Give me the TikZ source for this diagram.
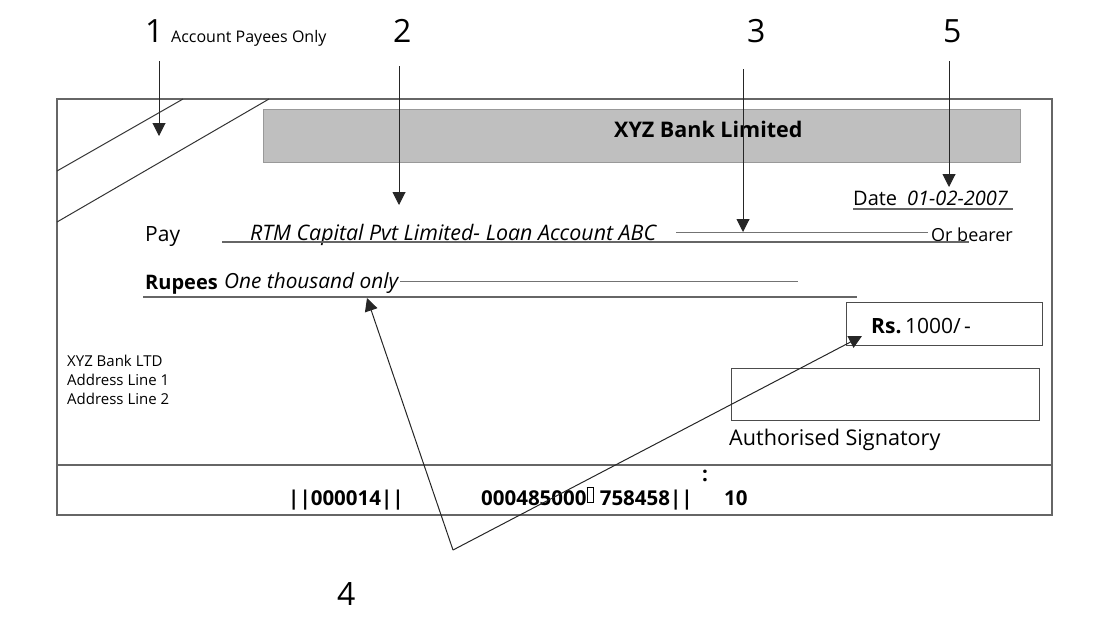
\documentclass[tikz,border=0pt]{standalone}
\usepackage{fontspec}
\setmainfont{Open Sans}
\usetikzlibrary{arrows.meta}
\begin{document}
\begin{tikzpicture}[x=1pt,y=-1pt,
  frame/.style={draw=black!60,line width=1.4pt},
  rule/.style={draw=black!60,line width=1.4pt},
  thin/.style={draw=black!55,line width=0.8pt},
  arr/.style={draw=black!85,line width=1pt,-{Triangle[length=13pt,width=13pt]}},
  num/.style={font=\fontsize{32}{32}\selectfont,inner sep=0pt,anchor=base west},
  txt/.style={inner sep=0pt,anchor=base west},
  fsize/.style={font=\fontsize{#1}{#1}\selectfont},
  fbold/.style={font=\fontsize{#1}{#1}\selectfont\bfseries}]
\useasboundingbox (0,0) rectangle (1118,633);

% cheque frame
\draw[frame] (57,99) rectangle (1052,515);
\draw[frame] (57,465) -- (1052,465);
% crossing lines
\draw[draw=black!80,line width=1pt] (57,171) -- (183,99);
\draw[draw=black!80,line width=1pt] (57,222) -- (269,99);
% bank header
\node[draw=black!40,fill=black!25,line width=1pt,minimum width=757pt,minimum height=53pt,anchor=north west,inner sep=0pt] (hdr) at (263,109) {};
\node[txt,fbold=21.5] (bank) at (614,137) {XYZ Bank Limited};

% date
\node[txt,fsize=20] (date) at (853,205) {Date\hspace{0.5em}\textit{01-02-2007}};
\draw[rule] (date.base west) ++(0,4) -- ++(160,0);

% pay line
\node[txt,fsize=21] (pay) at (145,241) {Pay};
\node[txt,fsize=21.4] (payee) at (250,240) {\textit{RTM Capital Pvt Limited- Loan Account ABC}};
\node[txt,fsize=18] (bearer) at (931,241) {Or bearer};
\draw[rule] (222,242) -- (969,242);
\draw[thin] (676,232) -- (928,232);

% rupees line
\node[txt,fbold=20] (rupees) at (145,289) {Rupees};
\node[txt,fsize=20.8] (words) at (224,288) {\textit{One thousand only}};
\draw[thin] (400,281) -- (798,281);
\draw[rule] (143,297) -- (857,297);

% amount box
\node[draw=black!70,line width=1pt,minimum width=196pt,minimum height=43pt,anchor=north west,inner sep=0pt] (amtbox) at (846,302) {};
\node[txt,fsize=21] (amt) at (871,333) {\textbf{Rs.}\,1000/\,-};

% signature box
\node[draw=black!70,line width=1pt,minimum width=308pt,minimum height=52pt,anchor=north west,inner sep=0pt] (sigbox) at (731,368) {};
\node[txt,fsize=21.6] (sig) at (729,445) {Authorised Signatory};

% address
\node[txt,fsize=15] (addr1) at (67,366) {XYZ Bank LTD};
\node[txt,fsize=15] (addr2) at (67,385) {Address Line 1};
\node[txt,fsize=15] (addr3) at (67,404) {Address Line 2};

% MICR
\node[txt,fbold=20.5] (micr1) at (288,505) {||000014||};
\node[txt,fbold=20.5] (micr2) at (481,505) {000485000\raisebox{0.25ex}{\setlength\fboxsep{0pt}\setlength\fboxrule{0.5pt}\fbox{\rule{0pt}{1.3ex}\hspace{0.3em}}}\hspace{0.3em}758458||};
\node[txt,fbold=20.5] (micr3) at (724,505) {10};
\node[txt,fbold=20.5] (colon) at (702,481) {:};

% callout labels
\node[num] (n1) at (145,42) {1};
\node[txt,fsize=16] (acc) at (171,42) {Account Payees Only};
\node[num] (n2) at (393,42) {2};
\node[num] (n3) at (747,42) {3};
\node[num] (n5) at (943,42) {5};
\node[num] (n4) at (337,605) {4};

% arrow coordinates
\coordinate (s1) at (159,61);  \coordinate (t1) at (159,136);
\coordinate (s2) at (399,66);  \coordinate (t2) at (399,205);
\coordinate (s3) at (743,69);  \coordinate (t3) at (743,232);
\coordinate (s5) at (949,61);  \coordinate (t5) at (949,187);
\coordinate (v4) at (453,550);
\coordinate (t4a) at (367,298);
\coordinate (t4b) at (862,336);

\draw[arr] (s1) -- (t1);
\draw[arr] (s2) -- (t2);
\draw[arr] (s3) -- (t3);
\draw[arr] (s5) -- (t5);
\draw[arr] (v4) -- (t4a);
\draw[arr] (v4) -- (t4b);
\end{tikzpicture}
\end{document}
